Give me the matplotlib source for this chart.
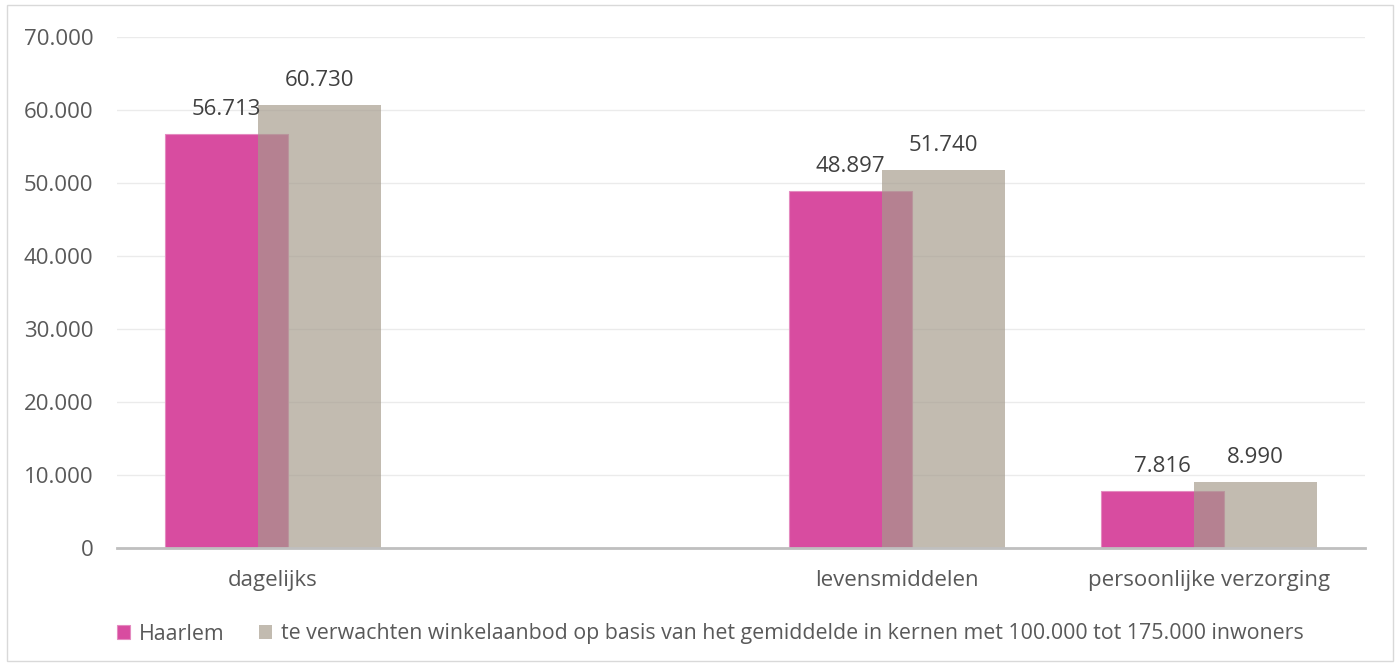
import numpy as np
import matplotlib.pyplot as plt
from matplotlib.patches import Rectangle

# ------------------------------------------------------------
# Data
# ------------------------------------------------------------
categories = ["dagelijks", "", "levensmiddelen", "persoonlijke verzorging"]
haarlem = [56713, np.nan, 48897, 7816]
verwacht = [60730, np.nan, 51740, 8990]
series_names = [
    "Haarlem",
    "te verwachten winkelaanbod op basis van het gemiddelde in kernen met 100.000 tot 175.000 inwoners",
]
y_ticks = [0, 10000, 20000, 30000, 40000, 50000, 60000, 70000]


def fmt_nl(v):
    """Dutch thousands separator: 56713 -> '56.713'."""
    if np.isnan(v):
        return ""
    return f"{v:,.0f}".replace(",", ".")


plt.rcParams["font.family"] = ["Open Sans", "DejaVu Sans"]
FS = 16

fig = plt.figure(figsize=(14, 6.68), dpi=100)
ax = fig.add_axes([117 / 1400, 1 - 548 / 668, 1248 / 1400, 511 / 668])

x = np.arange(len(categories))
width = 0.393
b1 = ax.bar(x - 0.15, haarlem, width, color="#D84CA0", edgecolor="#E48BC0",
            linewidth=0.8, label=series_names[0], zorder=2)
b2 = ax.bar(x + 0.15, verwacht, width, color="#A59B8B", alpha=0.68,
            linewidth=0, label=series_names[1], zorder=3)

ax.bar_label(b1, labels=[fmt_nl(v) for v in haarlem], padding=10,
             fontsize=FS, color="#404040", zorder=5)
ax.bar_label(b2, labels=[fmt_nl(v) for v in verwacht], padding=10,
             fontsize=FS, color="#404040", zorder=5)

ax.set_xlim(-0.5, len(categories) - 0.5)
ax.set_ylim(0, 70000)
ax.set_yticks(y_ticks)
ax.set_yticklabels([fmt_nl(v) for v in y_ticks])
ax.set_xticks(x)
ax.set_xticklabels(categories)
ax.tick_params(axis="y", length=0, pad=17, labelsize=FS, labelcolor="#595959")
ax.tick_params(axis="x", length=0, pad=16, labelsize=FS, labelcolor="#595959")

ax.grid(axis="y", color="#EBEBEB", linewidth=1, zorder=0)
ax.set_axisbelow(True)
for side in ["top", "right", "left"]:
    ax.spines[side].set_visible(False)
ax.spines["bottom"].set_color("#BFBFBF")
ax.spines["bottom"].set_linewidth(2)
ax.spines["bottom"].set_zorder(4)

fig.legend(handles=[b1, b2], labels=series_names, loc="center left",
           bbox_to_anchor=(117 / 1400, 1 - 634 / 668), ncol=2, frameon=False,
           fontsize=15.4, labelcolor="#595959", handlelength=0.6, handleheight=0.6,
           handletextpad=0.4, columnspacing=1.65, borderpad=0, borderaxespad=0)

# outer chart border
fig.patches.append(Rectangle((7 / 1400, 7 / 668), 1386 / 1400, 656 / 668,
                             transform=fig.transFigure, fill=False,
                             edgecolor="#D9D9D9", linewidth=1))

fig.savefig("out.png", dpi=100)
